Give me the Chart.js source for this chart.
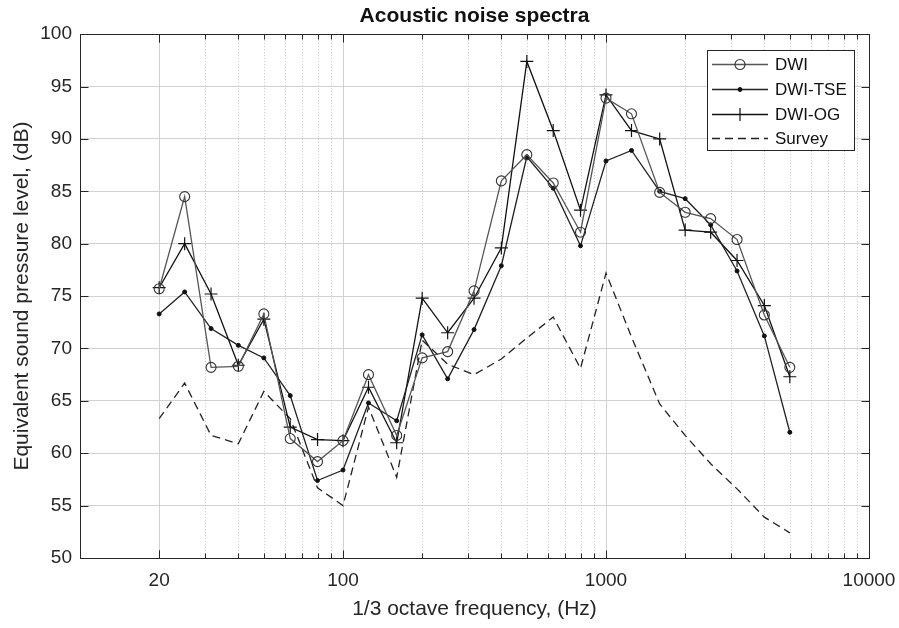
<!DOCTYPE html>
<html>
<head>
<meta charset="utf-8">
<script src="https://cdn.jsdelivr.net/npm/chart.js@4/dist/chart.umd.min.js"></script>
<style>
  html, body { margin: 0; padding: 0; background: #fff; }
  #wrap { width: 899px; height: 628px; }
</style>
</head>
<body>
<div id="wrap"><canvas id="noiseChart" width="899" height="628"></canvas></div>
<script>
// 1/3 octave band centre frequencies (Hz)
const freqs = [20, 25, 31.5, 40, 50, 63, 80, 100, 125, 160, 200, 250, 315, 400, 500, 630, 800, 1000, 1250, 1600, 2000, 2500, 3150, 4000, 5000];

// levels in dB
const dwi = [75.7, 84.5, 68.2, 68.3, 73.3, 61.4, 59.2, 61.2, 67.5, 61.7, 69.1, 69.7, 75.5, 86.0, 88.5, 85.8, 81.1, 93.9, 92.4, 84.9, 83.0, 82.4, 80.4, 73.2, 68.2];
const dwiTse = [73.3, 75.4, 71.9, 70.3, 69.1, 65.5, 57.4, 58.4, 64.8, 63.1, 71.3, 67.1, 71.8, 77.9, 88.3, 85.3, 79.8, 87.9, 88.9, 85.0, 84.3, 81.8, 77.4, 71.2, 62.0];
const dwiOg = [75.8, 80.0, 75.2, 68.4, 72.8, 62.5, 61.3, 61.2, 66.3, 61.0, 74.8, 71.5, 74.8, 79.6, 97.4, 90.8, 83.2, 94.2, 90.8, 90.0, 81.3, 81.1, 78.4, 74.1, 67.3];
const survey = [63.3, 66.7, 61.7, 60.9, 65.9, 63.3, 56.7, 55.0, 64.4, 57.7, 70.8, 68.5, 67.5, 69.0, 71.0, 73.0, 68.1, 77.2, 71.1, 64.7, 61.7, 59.0, 56.6, 53.9, 52.4];

const seriesNames = ['DWI', 'DWI-TSE', 'DWI-OG', 'Survey'];
const xTickValues = [20, 100, 1000, 10000];
const xRange = [10, 10000];
const yRange = [50, 100];
const yStep = 5;

const axisColor = '#262626';
const gridColor = '#d2d2d2';
const fontFamily = '"Liberation Sans", Arial, Helvetica, sans-serif';

function toPoints(values) {
    return freqs.map((f, i) => ({ x: f, y: values[i] }));
}

// minor log positions: 2..9 x each decade
function minorValues() {
    const out = [];
    for (let d = xRange[0]; d < xRange[1]; d *= 10) {
        for (let k = 2; k <= 9; k++) out.push(k * d);
    }
    return out;
}

// matlab style box: dotted minor grid, inward ticks on all four sides, legend box
const matlabAxes = {
    id: 'matlabAxes',
    afterLayout(chart) {
        // centre the title over the plot area, like matlab does
        const a = chart.chartArea;
        if (chart.titleBlock) {
            chart.titleBlock.left = a.left;
            chart.titleBlock.right = a.right;
        }
    },
    beforeDatasetsDraw(chart) {
        const { ctx, chartArea: a, scales: { x } } = chart;
        ctx.save();
        ctx.strokeStyle = '#c4c4c4';
        ctx.lineWidth = 1;
        ctx.setLineDash([1, 2]);
        minorValues().forEach(v => {
            if (xTickValues.includes(v)) return;
            const px = Math.round(x.getPixelForValue(v)) + 0.5;
            ctx.beginPath();
            ctx.moveTo(px, a.top);
            ctx.lineTo(px, a.bottom);
            ctx.stroke();
        });
        ctx.restore();
    },
    afterDraw(chart) {
        const { ctx, chartArea: a, scales: { x, y } } = chart;
        ctx.save();
        ctx.strokeStyle = axisColor;
        ctx.lineWidth = 1;
        ctx.setLineDash([]);
        const L = Math.round(a.left) + 0.5, R = Math.round(a.right) + 0.5;
        const T = Math.round(a.top) + 0.5, B = Math.round(a.bottom) + 0.5;
        ctx.strokeRect(L, T, R - L, B - T);

        ctx.beginPath();
        for (let v = yRange[0]; v <= yRange[1]; v += yStep) {
            const py = Math.round(y.getPixelForValue(v)) + 0.5;
            ctx.moveTo(L, py); ctx.lineTo(L + 8, py);
            ctx.moveTo(R, py); ctx.lineTo(R - 8, py);
        }
        xTickValues.concat(minorValues()).forEach(v => {
            const px = Math.round(x.getPixelForValue(v)) + 0.5;
            const len = xTickValues.includes(v) ? 8 : 5;
            ctx.moveTo(px, B); ctx.lineTo(px, B - len);
            ctx.moveTo(px, T); ctx.lineTo(px, T + len);
        });
        ctx.stroke();

        // legend
        const box = { left: 707.5, top: 50.5, width: 147, height: 100 };
        ctx.fillStyle = '#fff';
        ctx.fillRect(box.left, box.top, box.width, box.height);
        ctx.strokeStyle = axisColor;
        ctx.strokeRect(box.left, box.top, box.width, box.height);
        const rowY = [64, 89, 114, 138];
        chart.data.datasets.forEach((ds, i) => {
            const yy = rowY[i] + 0.5;
            ctx.strokeStyle = ds.borderColor;
            ctx.lineWidth = ds.borderWidth;
            ctx.setLineDash(ds.borderDash || []);
            ctx.beginPath();
            ctx.moveTo(712, yy);
            ctx.lineTo(768, yy);
            ctx.stroke();
            ctx.setLineDash([]);
            const cx = 740;
            if (ds.pointRadius > 0) {
                ctx.strokeStyle = ds.pointBorderColor;
                ctx.fillStyle = ds.pointBackgroundColor;
                ctx.lineWidth = ds.pointBorderWidth;
                ctx.beginPath();
                if (ds.pointStyle === 'cross') {
                    ctx.moveTo(cx - ds.pointRadius, yy); ctx.lineTo(cx + ds.pointRadius, yy);
                    ctx.moveTo(cx, yy - ds.pointRadius); ctx.lineTo(cx, yy + ds.pointRadius);
                    ctx.stroke();
                } else {
                    ctx.arc(cx, yy, ds.pointRadius, 0, Math.PI * 2);
                    ctx.fill();
                    ctx.stroke();
                }
            }
            ctx.fillStyle = '#111';
            ctx.font = '17px ' + fontFamily;
            ctx.textAlign = 'left';
            ctx.textBaseline = 'middle';
            ctx.fillText(ds.label, 775, yy + 1);
        });
        ctx.restore();
    }
};

const ctx = document.getElementById('noiseChart').getContext('2d');

new Chart(ctx, {
    type: 'line',
    data: {
        datasets: [
            {
                label: seriesNames[0],
                data: toPoints(dwi),
                borderColor: '#555',
                borderWidth: 1.3,
                pointStyle: 'circle',
                pointRadius: 5,
                pointBorderWidth: 1.1,
                pointBorderColor: '#333',
                pointBackgroundColor: 'rgba(255,255,255,0)'
            },
            {
                label: seriesNames[1],
                data: toPoints(dwiTse),
                borderColor: '#222',
                borderWidth: 1.3,
                pointStyle: 'circle',
                pointRadius: 2,
                pointBorderWidth: 1,
                pointBorderColor: '#111',
                pointBackgroundColor: '#111'
            },
            {
                label: seriesNames[2],
                data: toPoints(dwiOg),
                borderColor: '#111',
                borderWidth: 1.3,
                pointStyle: 'cross',
                pointRadius: 6.5,
                pointBorderWidth: 1.2,
                pointBorderColor: '#111',
                pointBackgroundColor: '#111'
            },
            {
                label: seriesNames[3],
                data: toPoints(survey),
                borderColor: '#222',
                borderWidth: 1.3,
                borderDash: [8, 5],
                pointRadius: 0,
                pointBorderWidth: 0,
                pointBorderColor: '#222',
                pointBackgroundColor: '#222'
            }
        ]
    },
    options: {
        responsive: false,
        animation: false,
        devicePixelRatio: 1,
        layout: { padding: { left: 0, right: 30, top: 0, bottom: 0 } },
        elements: { line: { tension: 0 } },
        plugins: {
            legend: { display: false },
            tooltip: { enabled: false },
            title: {
                display: true,
                text: 'Acoustic noise spectra',
                color: '#111',
                font: { family: fontFamily, size: 21, weight: 'bold' },
                padding: { top: 4, bottom: 5 }
            }
        },
        scales: {
            x: {
                type: 'logarithmic',
                min: xRange[0],
                max: xRange[1],
                afterBuildTicks: scale => {
                    scale.ticks = xTickValues.map(v => ({ value: v }));
                },
                afterFit: scale => {
                    scale.height = 70;
                    scale.paddingLeft = 0;
                    scale.paddingRight = 0;
                },
                ticks: {
                    autoSkip: false,
                    maxRotation: 0,
                    padding: 11,
                    color: axisColor,
                    font: { family: fontFamily, size: 19 },
                    callback: v => String(v)
                },
                grid: { color: gridColor, drawTicks: false, lineWidth: 1 },
                border: { display: true, color: axisColor },
                title: {
                    display: true,
                    text: '1/3 octave frequency, (Hz)',
                    color: axisColor,
                    font: { family: fontFamily, size: 21 },
                    padding: { top: 0, bottom: 6 }
                }
            },
            y: {
                min: yRange[0],
                max: yRange[1],
                afterFit: scale => {
                    scale.width = 80;
                    scale.paddingTop = 0;
                    scale.paddingBottom = 0;
                },
                ticks: {
                    stepSize: yStep,
                    padding: 8,
                    color: axisColor,
                    font: { family: fontFamily, size: 19 }
                },
                grid: { color: gridColor, drawTicks: false, lineWidth: 1 },
                border: { display: true, color: axisColor },
                title: {
                    display: true,
                    text: 'Equivalent sound pressure level, (dB)',
                    color: axisColor,
                    font: { family: fontFamily, size: 21 },
                    padding: { top: 10, bottom: 0 }
                }
            }
        }
    },
    plugins: [matlabAxes]
});
</script>
</body>
</html>
